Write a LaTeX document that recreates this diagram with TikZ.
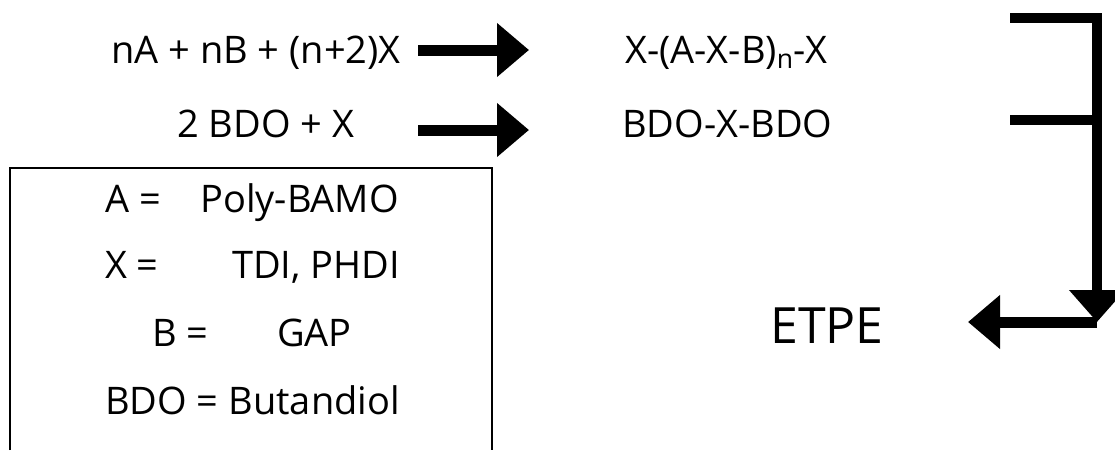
\documentclass[tikz,border=0pt]{standalone}
\usepackage{fontspec}
\setmainfont{Open Sans}
\usetikzlibrary{arrows.meta}
\begin{document}
\begin{tikzpicture}[x=1pt,y=-1pt,
  txt/.style={inner sep=0pt, anchor=base west, font=\fontsize{38}{44}\selectfont},
  big/.style={inner sep=0pt, anchor=base west, font=\fontsize{50}{58}\selectfont},
  fat/.style={line width=11pt, -{Triangle[length=32pt,width=52pt]}},
  rail/.style={line width=10pt, line join=miter}]
\useasboundingbox (0,0) rectangle (1115,450);

% reactions
\node[txt] (r1) at (111,63) {nA + nB + (n+2)X};
\node[txt] (p1) at (625,63) {X-(A-X-B)\textsubscript{n}-X};
\node[txt] (r2) at (177,137) {2 BDO + X};
\node[txt] (p2) at (622,137) {BDO-X-BDO};

\coordinate (a1s) at (418,50);
\coordinate (a1e) at (529,50);
\coordinate (a2s) at (418,130);
\coordinate (a2e) at (529,130);
\draw[fat] (a1s) -- (a1e);
\draw[fat] (a2s) -- (a2e);

% legend box, open at the bottom
\draw[line width=2pt] (10,450) -- (10,168) -- (492,168) -- (492,450);
\node[txt] (la) at (105,212) {A =};
\node[txt] (ra) at (200,212) {Poly-BAMO};
\node[txt] (lx) at (105,278) {X =};
\node[txt] (rx) at (232,278) {TDI, PHDI};
\node[txt] (lb) at (152,346) {B =};
\node[txt] (rb) at (277,346) {GAP};
\node[txt] (lbdo) at (105,414) {BDO = Butandiol};

% collecting bracket and product
\node[big] (etpe) at (770,343) {ETPE};
\coordinate (b1) at (1010,18);
\coordinate (c1) at (1097,18);
\coordinate (b2) at (1010,120);
\coordinate (c2) at (1097,120);
\coordinate (c3) at (1097,322);
\coordinate (e1) at (968,322);
\draw[rail, -{Triangle[length=32pt,width=54pt]}] (b1) -- (c1) -- (c3);
\draw[rail] (b2) -- (c2);
\draw[line width=11pt, -{Triangle[length=32pt,width=52pt]}] (c3) -- (e1);
\end{tikzpicture}
\end{document}
